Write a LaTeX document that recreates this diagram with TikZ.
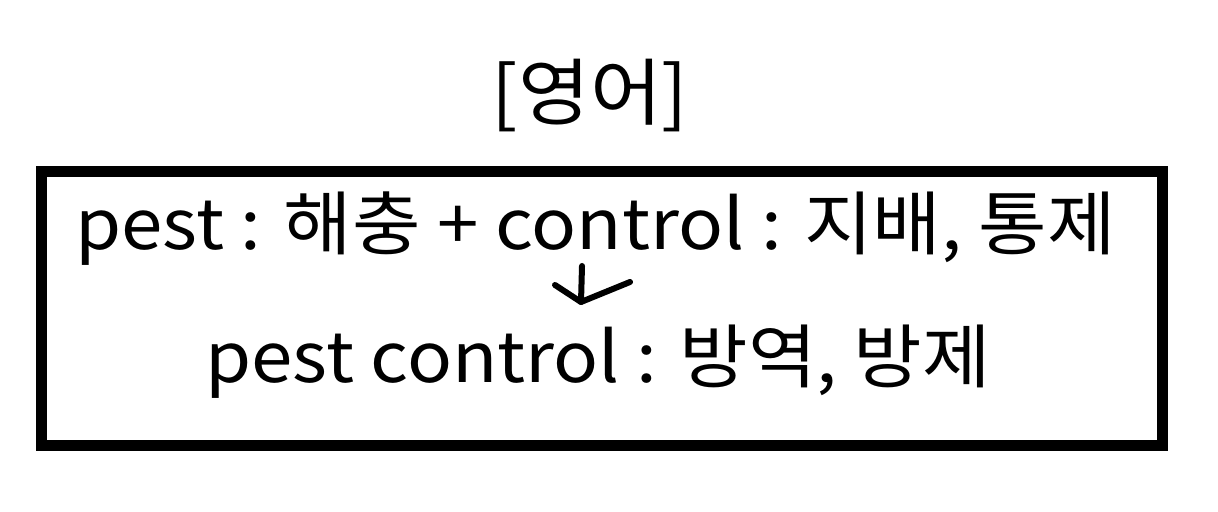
\documentclass[tikz,border=0pt]{standalone}
\usepackage{fontspec}
\setmainfont{Noto Sans CJK KR}[FakeStretch=1.07]
\begin{document}
\begin{tikzpicture}[x=0.5pt,y=0.5pt,
  txt/.style={inner sep=0pt,font=\fontsize{34.8}{40}\selectfont},
  frame/.style={draw=black,line width=5.5pt},
  hand/.style={draw=black,line width=3pt,line cap=round,line join=round}]
\useasboundingbox (0,0) rectangle (1218,512);
\node[txt,anchor=base,font=\fontsize{36.5}{42}\selectfont] (title) at (590,392) {[영어]};
\draw[frame] (41.5,66.5) rectangle (1162.5,340.5);
\node[txt,anchor=base west] (l1) at (75,262) {pest : 해충 + control : 지배, 통제};
\node[txt,anchor=base west] (l2) at (205,129) {pest control : 방역, 방제};
\coordinate (s1) at (582,246);
\coordinate (s2) at (581,210);
\coordinate (hl) at (555,227);
\coordinate (hr) at (630,230);
\draw[hand] (s1) -- (s2);
\draw[hand] (hl) -- (s2) -- (hr);
\end{tikzpicture}
\end{document}
